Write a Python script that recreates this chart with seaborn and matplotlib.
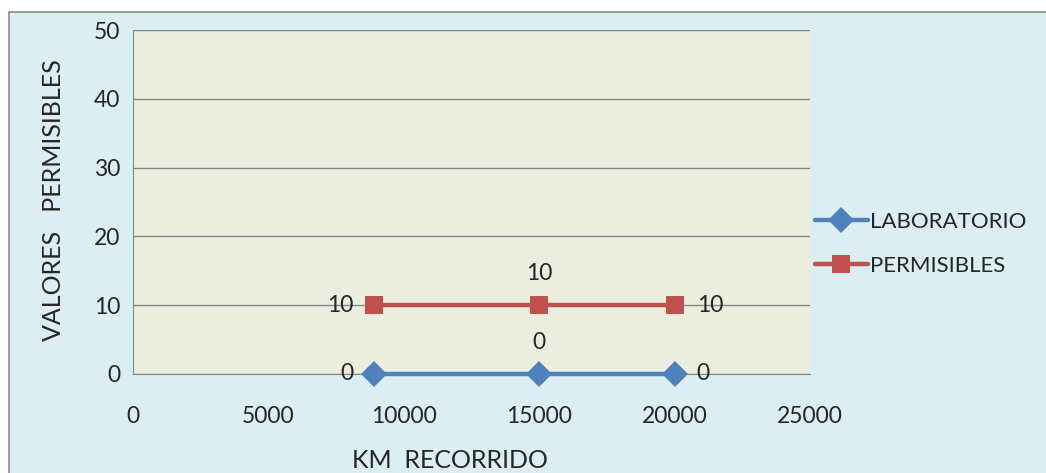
import numpy as np
import pandas as pd
import seaborn as sns
import matplotlib.pyplot as plt
from matplotlib.patches import Rectangle

# data
km = [8900, 15000, 20000]
laboratorio = [0, 0, 0]
permisibles = [10, 10, 10]
series_names = ["LABORATORIO", "PERMISIBLES"]
x_ticks = [0, 5000, 10000, 15000, 20000, 25000]
y_ticks = [0, 10, 20, 30, 40, 50]

df = pd.DataFrame({
    "km": km * 2,
    "valor": laboratorio + permisibles,
    "serie": [series_names[0]] * 3 + [series_names[1]] * 3,
})

sns.set_style("white")
plt.rcParams["font.family"] = ["Lato", "DejaVu Sans"]

fig = plt.figure(figsize=(10.46, 4.73), dpi=100)
fig.patch.set_facecolor("white")
# chart area frame
fig.patches.append(Rectangle((9 / 1046, -0.1), 1.2, 1 - 12 / 473 + 0.1,
                             transform=fig.transFigure, facecolor="#DBEEF3",
                             edgecolor="#8C8C8C", linewidth=1.2, zorder=-10))

ax = fig.add_axes([133 / 1046, 1 - 374 / 473, 677 / 1046, 344 / 473])
ax.set_facecolor("#EBEEDE")

colors = {"LABORATORIO": "#4F81BD", "PERMISIBLES": "#C0504D"}
sns.lineplot(data=df, x="km", y="valor", hue="serie", style="serie",
             palette=colors, markers={"LABORATORIO": "D", "PERMISIBLES": "s"},
             dashes=False, linewidth=3.2, markersize=13, markeredgewidth=0,
             ax=ax, zorder=5, clip_on=False)

ax.set_xlim(0, 25000)
ax.set_ylim(0, 50)
ax.set_xticks(x_ticks)
ax.set_yticks(y_ticks)
ax.tick_params(axis="both", labelsize=16.5, length=6, color="#868686", width=1)
ax.tick_params(axis="x", pad=17)
ax.tick_params(axis="y", pad=3)
ax.yaxis.grid(True, color="#868686", linewidth=1)
ax.set_axisbelow(True)
for side in ["top", "right"]:
    ax.spines[side].set_visible(False)
ax.spines["left"].set_color("#868686")
ax.spines["bottom"].set_color("#868686")

ax.set_xlabel("KM  RECORRIDO", fontsize=18, va="center")
ax.xaxis.set_label_coords(0.468, -0.25)
ax.set_ylabel("VALORES   PERMISIBLES", fontsize=18, va="center")
ax.yaxis.set_label_coords(-0.118, 0.506)

# data labels: left of first, above middle, right of last
for vals in [laboratorio, permisibles]:
    ax.annotate(str(vals[0]), (km[0], vals[0]), xytext=(-15, 0), textcoords="offset points",
                ha="right", va="center", fontsize=16.5)
    ax.annotate(str(vals[1]), (km[1], vals[1]), xytext=(0, 23), textcoords="offset points",
                ha="center", va="center", fontsize=16.5)
    ax.annotate(str(vals[2]), (km[2], vals[2]), xytext=(16, 0), textcoords="offset points",
                ha="left", va="center", fontsize=16.5)

leg = ax.legend(loc="center left", bbox_to_anchor=(1.007, 0.378), frameon=False,
                fontsize=16, handlelength=2.4, handletextpad=0.1, labelspacing=1.1,
                borderaxespad=0, borderpad=0)

fig.savefig("out.png", dpi=100)
